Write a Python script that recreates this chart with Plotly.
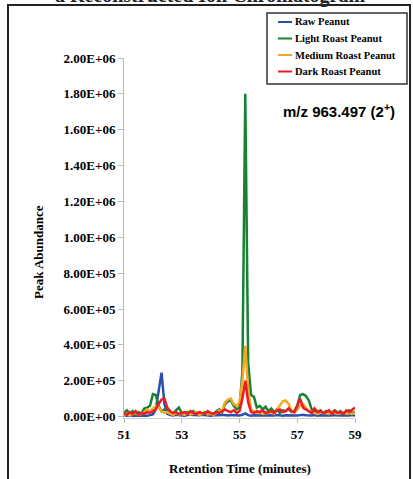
import plotly.graph_objects as go

# Retention time grid (minutes)
rt = [round(51 + 0.1 * i, 1) for i in range(81)]

# Peak abundance values, in thousands
raw_peanut = [8, 5, 7, 4, 6, 5, 7, 6, 5, 8,
              12, 40, 150, 245, 70, 15, 8, 6, 10, 7,
              6, 5, 8, 12, 9, 6, 7, 10, 8, 6,
              5, 7, 6, 8, 10, 7, 6, 9, 8, 5,
              6, 10, 18, 8, 5, 7, 6, 8, 5, 6,
              7, 5, 6, 8, 6, 5, 7, 6, 8, 5,
              6, 8, 10, 7, 5, 6, 8, 5, 7, 6,
              5, 7, 6, 8, 5, 6, 7, 5, 6, 8,
              6]
light_roast = [20, 35, 15, 30, 10, 25, 15, 45, 50, 60,
               125, 120, 60, 30, 40, 45, 20, 15, 35, 50,
               20, 15, 25, 10, 30, 15, 20, 10, 25, 15,
               20, 15, 30, 40, 25, 70, 85, 90, 60, 40,
               50, 250, 1800, 300, 120, 110, 50, 60, 40, 55,
               30, 45, 25, 40, 20, 35, 30, 45, 25, 30,
               60, 120, 125, 115, 90, 40, 30, 25, 35, 20,
               30, 15, 25, 35, 20, 30, 15, 25, 35, 20,
               25]
medium_roast = [10, 15, 8, 12, 20, 10, 15, 25, 40, 30,
                45, 60, 55, 30, 20, 25, 15, 10, 20, 12,
                15, 10, 20, 12, 15, 25, 10, 15, 20, 12,
                15, 10, 20, 35, 30, 80, 95, 100, 70, 60,
                80, 200, 395, 150, 40, 30, 20, 25, 15, 20,
                20, 25, 15, 40, 60, 85, 90, 70, 30, 20,
                40, 60, 70, 50, 30, 25, 20, 15, 25, 20,
                20, 15, 25, 20, 15, 20, 25, 15, 20, 15,
                20]
dark_roast = [20, 10, 25, 15, 30, 10, 20, 15, 25, 20,
              30, 40, 70, 95, 100, 50, 30, 20, 25, 15,
              20, 25, 15, 30, 20, 15, 25, 20, 15, 30,
              20, 15, 25, 20, 30, 40, 30, 25, 35, 20,
              30, 100, 200, 80, 25, 20, 30, 25, 35, 20,
              25, 30, 20, 35, 40, 25, 30, 45, 30, 25,
              60, 100, 50, 40, 30, 20, 45, 25, 30, 20,
              25, 35, 15, 30, 20, 25, 15, 35, 25, 40,
              50]

series_names = ["Raw Peanut", "Light Roast Peanut", "Medium Roast Peanut", "Dark Roast Peanut"]
series_values = [raw_peanut, light_roast, medium_roast, dark_roast]
series_colors = ["#2a4fb0", "#168232", "#f5a623", "#ec1c24"]

y_tickvals = [i * 200000 for i in range(11)]
y_ticktext = ["0.00E+00", "2.00E+05", "4.00E+05", "6.00E+05", "8.00E+05", "1.00E+06",
              "1.20E+06", "1.40E+06", "1.60E+06", "1.80E+06", "2.00E+06"]
x_tickvals = [51, 53, 55, 57, 59]

serif = "Liberation Serif"
W, H = 413, 479
ML, MR, MT, MB = 124, 58, 58, 61
PW, PH = W - ML - MR, H - MT - MB


def px(xp):
    return (xp - ML) / PW


def py(yp):
    return (H - MB - yp) / PH


fig = go.Figure()
for name, vals, col in zip(series_names, series_values, series_colors):
    fig.add_trace(go.Scatter(
        x=rt, y=[v * 1000 for v in vals], mode="lines", name=name,
        line=dict(color=col, width=2.5),
    ))

shapes = [
    dict(type="rect", xref="paper", yref="paper",
         x0=px(8), x1=px(410), y0=py(500), y1=py(5),
         line=dict(color="#222", width=2)),
    dict(type="rect", xref="paper", yref="paper",
         x0=px(267), x1=px(407), y0=py(84), y1=py(13),
         line=dict(color="#333", width=1.5), fillcolor="white"),
]
annotations = [
    dict(text="a Reconstructed Ion Chromatogram", xref="paper", yref="paper",
         x=px(210), y=py(9), xanchor="center", yanchor="bottom", showarrow=False,
         font=dict(family=serif, size=20, color="#222", weight="bold")),
    dict(text="m/z 963.497 (2<sup>+</sup>)", xref="paper", yref="paper",
         x=px(339), y=py(110), xanchor="center", yanchor="middle", showarrow=False,
         font=dict(family="Liberation Sans", size=15, color="black", weight="bold")),
    dict(text="Peak Abundance", xref="paper", yref="paper",
         x=px(38), y=py(252), xanchor="center", yanchor="middle", textangle=-90,
         showarrow=False,
         font=dict(family=serif, size=13, color="black", weight="bold")),
    dict(text="Retention Time (minutes)", xref="paper", yref="paper",
         x=px(240), y=py(468), xanchor="center", yanchor="middle", showarrow=False,
         font=dict(family=serif, size=13, color="black", weight="bold")),
]
# legend entries
for k, (name, col) in enumerate(zip(series_names, series_colors)):
    yy = 22 + 16.5 * k
    shapes.append(dict(type="line", xref="paper", yref="paper",
                       x0=px(278), x1=px(292), y0=py(yy), y1=py(yy),
                       line=dict(color=col, width=2)))
    annotations.append(dict(text=name, xref="paper", yref="paper",
                            x=px(293), y=py(yy), xanchor="left", yanchor="middle",
                            showarrow=False,
                            font=dict(family=serif, size=10.5, color="black", weight="bold")))

fig.update_layout(
    width=W, height=H,
    margin=dict(l=ML, r=MR, t=MT, b=MB),
    paper_bgcolor="white", plot_bgcolor="white",
    font=dict(family=serif, color="black"),
    showlegend=False,
    xaxis=dict(
        range=[51, 59], tickvals=x_tickvals, ticks="outside", ticklen=4,
        tickcolor="#bbbbbb", showline=True, linecolor="#cccccc", linewidth=1,
        showgrid=False, zeroline=False, automargin=False,
        tickfont=dict(family=serif, size=13, color="black", weight="bold"),
    ),
    yaxis=dict(
        range=[-8000, 2000000], tickvals=y_tickvals, ticktext=y_ticktext,
        ticks="outside", ticklen=5, tickcolor="#bbbbbb",
        showline=True, linecolor="#bbbbbb", linewidth=1,
        showgrid=False, zeroline=False, automargin=False,
        tickfont=dict(family=serif, size=13, color="black", weight="bold"),
    ),
    shapes=shapes,
    annotations=annotations,
)

fig.write_html(
    "out.html",
    config={"displayModeBar": False},
    post_script="document.body.style.margin='0';document.body.style.overflow='hidden';",
)
